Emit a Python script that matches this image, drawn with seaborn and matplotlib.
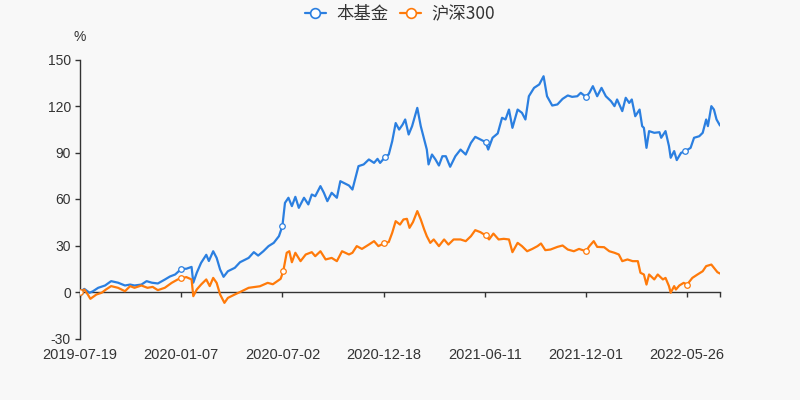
import numpy as np
import pandas as pd
import matplotlib
matplotlib.use("Agg")
import matplotlib.pyplot as plt
from matplotlib.lines import Line2D
import seaborn as sns

# ---- data (trading-day index on a category axis, cumulative return in %) ----
fund_day = [0, 5, 11, 15, 21, 29, 36, 44, 52, 58, 63, 71, 77, 83, 90, 98, 104, 110, 113, 117,
            123, 129, 131, 135, 140, 146, 149, 154, 158, 162, 166, 171, 179,
            185, 195, 201, 206, 212, 218, 224, 230, 234, 237, 241, 245, 249, 253, 259, 264, 268,
            272, 278, 282, 286, 291, 297, 301, 305, 311, 315, 318, 322, 328, 334, 340, 344, 347,
            353, 357, 361, 365, 369, 373, 376, 380,
            384, 390, 394, 398, 401, 403, 407, 411, 415, 419, 423, 428, 434, 440, 446, 452, 457,
            463, 469, 472, 477, 483, 488, 492, 496, 500, 506, 511, 515, 519, 525, 531, 536, 540,
            546, 552, 558, 564,
            569, 575, 579, 585, 589, 593, 598, 603, 608, 614, 618, 621, 627, 631, 635, 638, 642,
            647, 650, 652, 655, 658, 664, 670, 672, 677, 681, 683, 687, 690, 695, 700, 706, 710,
            716, 720, 724, 726, 730, 733, 736, 740]
fund_ret = [0, 2, -0.5, 0.5, 2.7, 4.2, 7, 6, 4.2, 4.8, 4.2, 4.8, 7, 6, 5.5, 8, 10, 11.3, 12.8, 15,
            15, 16.2, 6, 12.4, 18.8, 24, 20, 26.3, 22, 14.5, 9.8, 13.4, 15.6,
            19.2, 22, 25.7, 23.5, 26.3, 29.6, 31.7, 36, 42.5, 57.5, 60.8, 55.4, 61.4, 54.3, 60.8, 56.5, 62.9,
            61.8, 68.3, 64, 58.6, 64, 60.8, 71.5, 70.4, 68.7, 66.1, 72.6, 81.2, 82.3, 85.5, 83.3, 85.9, 83.3,
            87.2, 88.7, 97.3, 109, 104.8, 108, 111.3, 101.6,
            107, 118.8, 107, 98.4, 91.9, 82.3, 88.7, 85.5, 81.6, 87.6, 87.6, 80.8, 87.6, 91.9, 88.7, 96.2, 100.1,
            98.4, 96.7, 91.9, 99.5, 102.3, 112.4, 111.3, 117.7, 105.9, 117.7, 115.6, 111.3, 126.3, 131.7, 133.9, 139.2, 126.3,
            120.3, 121, 124.6, 126.8,
            125.9, 126.3, 128.5, 125.9, 128.5, 132.8, 126.3, 131.7, 126.3, 123.1, 119.9, 124.2, 116.7, 125.3, 122, 124.2, 113.4,
            117.7, 107, 105.9, 93, 103.8, 102.7, 103.1, 99.5, 103.8, 94.1, 86.6, 90.9, 85.1, 89.8, 90.9, 93, 99.5,
            100.5, 102.7, 111.3, 107, 119.9, 117.7, 111.3, 107.4]

hs300_day = [0, 5, 9, 12, 19, 25, 30, 36, 44, 52, 58, 63, 71, 78, 84, 90, 98, 106, 113, 117,
             123, 129, 131, 135, 140, 146, 150, 154, 158, 162, 167, 171, 179, 187, 195, 208, 217, 223,
             232, 235, 239, 242, 245, 249, 255, 261, 268, 272, 278, 284, 291, 297, 303, 311, 315, 320,
             326, 334, 340, 345, 351, 357, 361, 365, 370, 374, 378, 381,
             385, 390, 394, 398, 401, 405, 409, 415, 421, 426, 432, 440, 446, 452, 457, 463, 469, 473,
             478, 484, 490, 496, 500, 506, 511, 517, 523, 529, 533, 538, 544, 552, 558, 564,
             571, 577, 585, 589, 594, 598, 606, 612, 618, 623, 627, 633, 639, 645, 648, 652, 655, 658,
             664, 668, 674, 677, 681, 683, 687, 689, 693, 698, 702, 708, 714, 720, 724, 730, 733, 737, 740]
hs300_ret = [0, 1.6, -1.6, -4.4, -1.6, -0.5, 1.6, 3.8, 2.7, 0.5, 3.8, 2.7, 4.2, 2.7, 3.3, 1.2, 2.7, 5.9, 8.1, 8.9,
             9.6, 8.1, -2.7, 1.6, 4.8, 8.1, 3.8, 9.1, 5.9, -1.6, -7, -3.8, -1.6, 0.5, 2.7, 3.7, 5.9, 5,
             8.5, 13.4, 25.3, 26.3, 19.2, 25.3, 19.9, 24.2, 25.7, 23.1, 26.3, 21, 22, 19.9, 26.3, 24.2, 25.3, 29.6,
             27.8, 30.6, 32.8, 29.6, 31.3, 32.2, 38.2, 45.7, 43.5, 46.8, 47.2, 41.4,
             45.1, 52.2, 46.8, 40.3, 36, 31.7, 33.9, 29.6, 33.9, 30.6, 33.9, 33.9, 32.8, 36, 39.9, 38.6, 36.5, 33.9,
             37.7, 33.9, 34.3, 33.9, 25.7, 31.7, 29.6, 26.3, 27.8, 29.6, 31.3, 27, 27.4, 29.1, 30, 27.4,
             26.3, 27.8, 26.3, 29.6, 32.8, 29.1, 28.9, 26.3, 25.3, 24.2, 19.9, 21, 19.9, 19.9, 12.4, 11.3, 4.8, 11.3,
             8.1, 11.3, 8.1, 9.1, 3.8, -0.5, 3.8, 1.6, 4.2, 5.9, 4.8, 9.1, 11.3, 13.4, 16.7, 17.7, 15.6, 12.8, 11.9]

tick_day = [0, 117, 234, 351, 468, 585, 702, 740]
tick_labels = ["2019-07-19", "2020-01-07", "2020-07-02", "2020-12-18",
               "2021-06-11", "2021-12-01", "2022-05-26", ""]
y_ticks = [-30, 0, 30, 60, 90, 120, 150]
series_names = ["本基金", "沪深300"]
colors = ["#2b7fe0", "#ff7a0a"]

# ---- style ----
sns.set_theme(style="white")
plt.rcParams["font.family"] = ["Liberation Sans", "Noto Sans CJK SC", "DejaVu Sans"]
plt.rcParams["axes.unicode_minus"] = True
bg = "#f8f8f8"
txt = "#333333"

fig = plt.figure(figsize=(8, 4), dpi=100, facecolor=bg)
ax = fig.add_axes([0.1, 1 - 338.5 / 400, 0.8, (338.5 - 59.5) / 400])
ax.set_facecolor(bg)

fund = pd.DataFrame({"day": fund_day, "ret": fund_ret})
hs = pd.DataFrame({"day": hs300_day, "ret": hs300_ret})

for df, c in [(fund, colors[0]), (hs, colors[1])]:
    sns.lineplot(data=df, x="day", y="ret", ax=ax, color=c, linewidth=1.6,
                 estimator=None, sort=False, zorder=3)
    # hollow symbols at the labelled category positions
    idx = [int(np.argmin(np.abs(df["day"].values - t))) for t in tick_day[:-1]]
    sub = df.iloc[idx]
    sns.scatterplot(data=sub, x="day", y="ret", ax=ax, s=16, marker="o",
                    facecolor="white", edgecolor=c, linewidth=0.9, zorder=4)

ax.set_xlim(0, 740)
ax.set_ylim(-30, 150)
ax.set_xlabel("")
ax.set_ylabel("")

ax.set_yticks(y_ticks)
ax.set_yticklabels([str(v) for v in y_ticks])
ax.set_xticks(tick_day)
ax.set_xticklabels(tick_labels)

for s in ["top", "right"]:
    ax.spines[s].set_visible(False)
ax.spines["left"].set_color(txt)
ax.spines["left"].set_linewidth(1)
ax.spines["bottom"].set_color(txt)
ax.spines["bottom"].set_linewidth(1)
ax.spines["bottom"].set_position(("data", 0))

ax.tick_params(axis="y", colors=txt, labelcolor=txt, labelsize=10,
               length=3.5, width=1, direction="out", left=True, pad=3)
ax.tick_params(axis="x", colors=txt, labelcolor=txt, labelsize=10.5,
               length=3.8, width=1, direction="out", bottom=True, pad=36.5)
ax.grid(False)

fig.text(0.1, 1 - 37 / 400, "%", ha="center", va="center", fontsize=10, color=txt)

handles = [Line2D([0], [0], color=c, lw=1.6, marker="o", markersize=7,
                  markerfacecolor="white", markeredgecolor=c, markeredgewidth=1.2)
           for c in colors]
fig.legend(handles, series_names, loc="center", bbox_to_anchor=(0.5, 1 - 14 / 400),
           ncol=2, frameon=False, handlelength=1.2,
           handletextpad=0.6, columnspacing=0.7, labelcolor=txt,
           prop={"family": ["Noto Sans CJK SC", "DejaVu Sans"], "size": 12.5})

fig.savefig("out.png", dpi=100, facecolor=bg)
